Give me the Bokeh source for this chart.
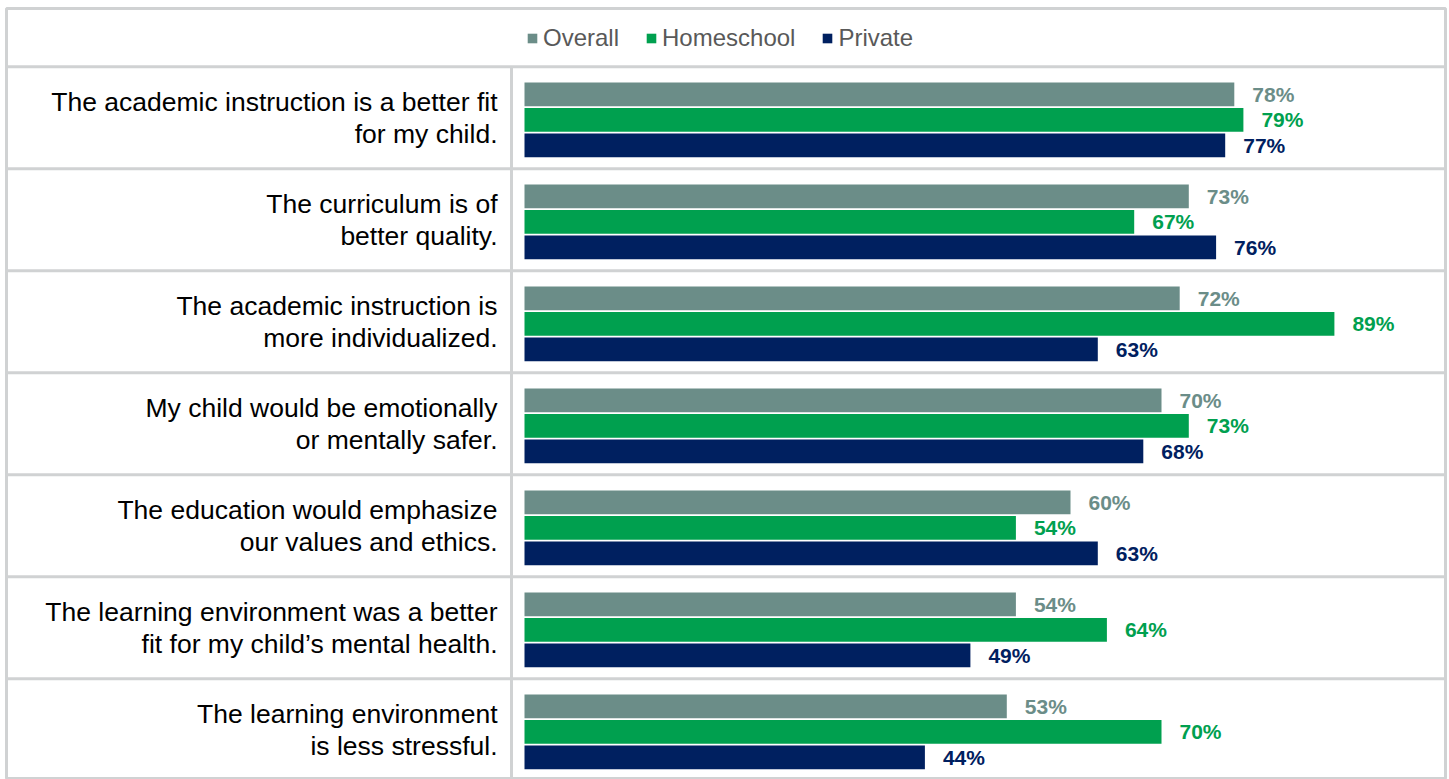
import numpy as np
from bokeh.plotting import figure
from bokeh.models import Range1d, Span, Legend, LegendItem, ColumnDataSource
from bokeh.core.properties import value
from bokeh.embed import file_html
from bokeh.resources import INLINE

# ---- data ----
categories = [
    "The academic instruction is a better fit\nfor my child.",
    "The curriculum is of\nbetter quality.",
    "The academic instruction is\nmore individualized.",
    "My child would be emotionally\nor mentally safer.",
    "The education would emphasize\nour values and ethics.",
    "The learning environment was a better\nfit for my child\u2019s mental health.",
    "The learning environment\nis less stressful.",
]
series_names = ["Overall", "Homeschool", "Private"]
overall = [78, 73, 72, 70, 60, 54, 53]
homeschool = [79, 67, 89, 73, 54, 64, 70]
private = [77, 76, 63, 68, 63, 49, 44]

# ---- style ----
colors = ["#6B8D88", "#00A04F", "#002060"]
grid_color = "#D0D2D3"
FONT = "Liberation Sans"

# ---- layout (pixel geometry -> data ranges) ----
W, H = 1449, 779
left_b, right_b, top_b, bottom_b = 6, 4, 8, 0
zero_px = 524.0
px_per_unit = 9.1
row_px = 102.0
first_row_px = 66.3

x_start = (left_b - zero_px) / px_per_unit
x_end = (W - right_b - zero_px) / px_per_unit
y_start = (H - bottom_b - first_row_px) / row_px
y_end = (top_b - first_row_px) / row_px

p = figure(width=W, height=H, output_backend="svg", toolbar_location=None,
           x_range=Range1d(x_start, x_end), y_range=Range1d(y_start, y_end),
           min_border_left=left_b, min_border_right=right_b,
           min_border_top=top_b, min_border_bottom=bottom_b,
           x_axis_location=None, y_axis_location=None)
p.xgrid.visible = False
p.ygrid.visible = False
p.outline_line_color = grid_color
p.outline_line_width = 3
p.background_fill_color = "white"
p.border_fill_color = "white"

n = len(categories)
idx = np.arange(n)

# row separators
for i in range(n + 1):
    p.add_layout(Span(location=i, dimension="width", line_color=grid_color, line_width=3))
# vertical separator between labels and bars
sep_x = (511 - zero_px) / px_per_unit
p.segment(x0=[sep_x], y0=[0], x1=[sep_x], y1=[n + 1], line_color=grid_color, line_width=3)

offsets = [0.27, 0.52, 0.77]
bar_h = 0.232
renderers = []
for name, vals, col, off in zip(series_names, [overall, homeschool, private], colors, offsets):
    src = ColumnDataSource(dict(y=idx + off, v=vals, lbl=[f"{v}%" for v in vals]))
    r = p.hbar(y="y", left=0, right="v", height=bar_h, source=src,
               fill_color=col, line_color=None)
    renderers.append(r)
    p.text(x="v", y="y", text="lbl", source=src, x_offset=18,
           text_font=value(FONT), text_font_style="bold", text_font_size="21px",
           text_color=col, text_align="left", text_baseline="middle")

# category labels
csrc = ColumnDataSource(dict(y=idx + 0.5, t=categories, x=[0] * n))
p.text(x="x", y="y", text="t", source=csrc, x_offset=-27,
       text_font=value(FONT), text_font_size="26.5px", text_line_height=1.05,
       text_color="#000000", text_align="right", text_baseline="middle")

legend = Legend(items=[LegendItem(label=nm, renderers=[r]) for nm, r in zip(series_names, renderers)],
                orientation="horizontal", location=(520, 727),
                glyph_width=12, glyph_height=12, label_standoff=5, spacing=26,
                label_text_font=FONT, label_text_font_size="24px",
                label_text_color="#595959", label_height=24,
                padding=0, margin=0, border_line_color=None,
                background_fill_alpha=0)
p.add_layout(legend)

open("out.html", "w").write(file_html(p, INLINE))
